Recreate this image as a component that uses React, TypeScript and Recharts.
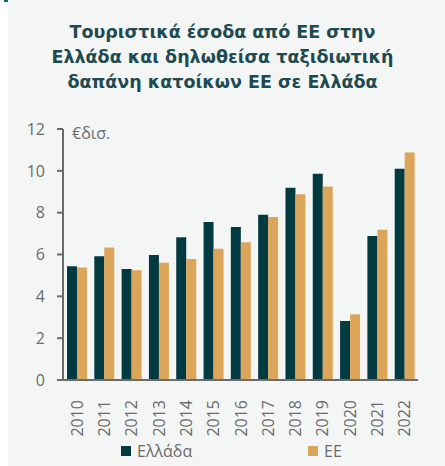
import React from 'react';
import { BarChart, Bar, XAxis, YAxis, Legend } from 'recharts';

const years = ['2010','2011','2012','2013','2014','2015','2016','2017','2018','2019','2020','2021','2022'];
const greece = [5.44, 5.92, 5.31, 5.98, 6.82, 7.55, 7.31, 7.90, 9.19, 9.86, 2.82, 6.88, 10.10];
const eu = [5.38, 6.34, 5.25, 5.60, 5.79, 6.27, 6.58, 7.79, 8.88, 9.25, 3.14, 7.18, 10.88];
const yTicks = [0, 2, 4, 6, 8, 10, 12];
const titleLines = ['Τουριστικά έσοδα από ΕΕ στην', 'Ελλάδα και δηλωθείσα ταξιδιωτική', 'δαπάνη κατοίκων ΕΕ σε Ελλάδα'];
const unitLabel = '€δισ.';
const seriesKeys = ['gr', 'eu'];
const seriesNames: Record<string, string> = { gr: 'Ελλάδα', eu: 'ΕΕ' };

const data = years.map((y, i) => ({ year: y, gr: greece[i], eu: eu[i] }));

const DARK = '#023a41';
const GOLD = '#dba65a';
const TEXT = '#6b6b6b';
const FONT = '"Open Sans", "Noto Sans", sans-serif';

const XTick = (props: any) => {
  const { x, y, payload } = props;
  return (
    <text
      x={0}
      y={0}
      transform={`translate(${x + 6},${y + 12}) rotate(-90)`}
      textAnchor="end"
      fill={TEXT}
      fontSize={16}
      fontFamily={FONT}
    >
      {payload.value}
    </text>
  );
};

const LegendContent = (props: any) => {
  const items = [...(props.payload || [])].sort(
    (a: any, b: any) => seriesKeys.indexOf(a.dataKey) - seriesKeys.indexOf(b.dataKey)
  );
  const xs = [121, 308];
  return (
    <svg width={445} height={24} style={{ display: 'block' }}>
      {items.map((it: any, i: number) => (
        <g key={i}>
          <rect x={xs[i]} y={6} width={10} height={10} fill={it.color} />
          <text x={xs[i] + 16} y={11} dominantBaseline="central" fill={TEXT} fontSize={16} fontFamily={FONT}>
            {it.value}
          </text>
        </g>
      ))}
    </svg>
  );
};

export default function App() {
  return (
    <div style={{ position: 'absolute', left: 0, top: 0, width: 445, height: 466, background: '#ffffff', overflow: 'hidden' }}>
      <div style={{ position: 'absolute', left: 8, top: 0, width: 437, height: 466, background: '#f4f6f6' }} />
      <div style={{ position: 'absolute', left: 4, top: 0, width: 4, height: 2, background: '#0b6b73' }} />
      <div
        style={{
          position: 'absolute',
          left: 0,
          top: 20,
          width: 445,
          textAlign: 'center',
          fontFamily: '"DejaVu Sans", sans-serif',
          fontWeight: 700,
          fontSize: 17.5,
          lineHeight: '25px',
          color: '#1f4b50',
        }}
      >
        {titleLines.map((l, i) => (
          <div key={i}>{l}</div>
        ))}
      </div>
      <div style={{ position: 'absolute', left: 0, top: 0 }}>
        <BarChart
          width={445}
          height={466}
          data={data}
          margin={{ top: 129, right: 27, left: 0, bottom: 0 }}
          barGap={0}
          barSize={10}
        >
          <XAxis
            dataKey="year"
            height={62}
            axisLine={{ stroke: '#6b6b6b', strokeWidth: 2 }}
            tickLine={false}
            tick={<XTick />}
            interval={0}
          />
          <YAxis
            width={63}
            domain={[0, 12]}
            ticks={yTicks}
            interval={0}
            axisLine={{ stroke: '#6b6b6b', strokeWidth: 2 }}
            tickLine={{ stroke: '#6b6b6b', strokeWidth: 2 }}
            tickSize={6}
            tickMargin={12}
            tick={{ fill: TEXT, fontSize: 16, fontFamily: FONT }}
            label={(p: any) => {
              const vb = p.viewBox || { x: 0, y: 129, width: 63 };
              return (
                <text x={vb.x + vb.width + 9} y={vb.y + 4} dominantBaseline="central" fill={TEXT} fontSize={16} fontFamily={FONT}>
                  {unitLabel}
                </text>
              );
            }}
          />
          <Legend
            verticalAlign="bottom"
            content={<LegendContent />}
            wrapperStyle={{ position: 'absolute', left: 0, top: 440, width: 445 }}
          />
          <Bar dataKey="gr" name={seriesNames.gr} fill={DARK} isAnimationActive={false} />
          <Bar dataKey="eu" name={seriesNames.eu} fill={GOLD} isAnimationActive={false} />
        </BarChart>
      </div>
    </div>
  );
}
